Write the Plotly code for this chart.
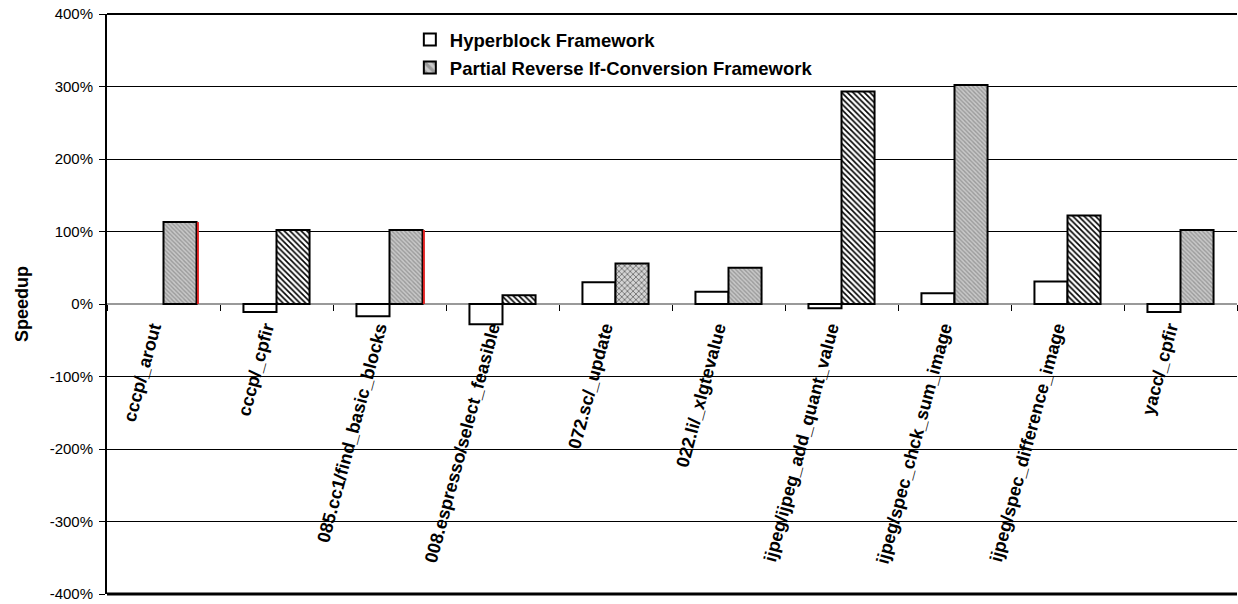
import plotly.graph_objects as go

# Benchmark functions (x-axis categories)
categories = [
    "cccp/_arout",
    "cccp/_cpfir",
    "085.cc1/find_basic_blocks",
    "008.espresso/select_feasible",
    "072.sc/_update",
    "022.li/_xlgtevalue",
    "ijpeg/ijpeg_add_quant_value",
    "ijpeg/spec_chck_sum_image",
    "ijpeg/spec_difference_image",
    "yacc/_cpfir",
]

# Speedup in percent (None: no bar drawn)
hyperblock = [None, -11, -17, -28, 30, 17, -6, 15, 31, -11]
partial_rifc = [113, 102, 102, 12, 56, 50, 293, 302, 122, 102]

# Fill style of each Partial Reverse If-Conversion bar
partial_fill = ["grey", "hatch", "grey", "hatch", "check",
                "grey", "hatch", "grey", "hatch", "grey"]
red_edge = [True, False, True, False, False, False, False, False, False, False]

y_ticks = [-400, -300, -200, -100, 0, 100, 200, 300, 400]
y_tick_text = [f"{v}%" for v in y_ticks]

FONT = "Liberation Sans, Arial, sans-serif"
BARGAP = 0.415

style = {
    "grey": ("\\", "#c8c8c8", "#9a9a9a", 3, 0.45),
    "hatch": ("\\", "#ffffff", "#000000", 4, 0.4),
    "check": ("x", "#d4d4d4", "#707070", 4, 0.4),
}
p_shape = [style[f][0] for f in partial_fill]
p_bg = [style[f][1] for f in partial_fill]
p_fg = [style[f][2] for f in partial_fill]
p_size = [style[f][3] for f in partial_fill]
p_sol = [style[f][4] for f in partial_fill]

fig = go.Figure()
fig.add_trace(go.Bar(
    x=categories, y=hyperblock, name="Hyperblock Framework",
    marker=dict(color="white", line=dict(color="black", width=2)),
    legendgroup="a",
))
fig.add_trace(go.Bar(
    x=categories, y=partial_rifc, name="Partial Reverse If-Conversion Framework",
    marker=dict(
        color="#c8c8c8",
        line=dict(color="black", width=2),
        pattern=dict(shape=p_shape, bgcolor=p_bg, fgcolor=p_fg,
                     size=p_size, solidity=p_sol, fillmode="replace"),
    ),
    legendgroup="b",
))

# Red right edge drawn on some of the Partial bars
bar_w = (1 - BARGAP) / 2
shapes = []
for i, (flag, v) in enumerate(zip(red_edge, partial_rifc)):
    if flag:
        shapes.append(dict(type="line", xref="x", yref="y",
                           x0=i + bar_w + 0.012, x1=i + bar_w + 0.012, y0=0, y1=v,
                           line=dict(color="#e02020", width=2)))

# Top and bottom frame lines
shapes.append(dict(type="line", xref="paper", yref="paper", x0=0, x1=1, y0=1, y1=1,
                   line=dict(color="black", width=2)))
shapes.append(dict(type="line", xref="paper", yref="paper", x0=0, x1=1, y0=0, y1=0,
                   line=dict(color="black", width=3)))

fig.update_layout(
    width=1238, height=604,
    margin=dict(l=107, r=1, t=14, b=10),
    paper_bgcolor="white", plot_bgcolor="white",
    barmode="group", bargap=BARGAP, bargroupgap=0,
    font=dict(family=FONT, color="black"),
    shapes=shapes,
    showlegend=True,
    legend=dict(
        x=0.268, y=0.988, xanchor="left", yanchor="top",
        bgcolor="rgba(0,0,0,0)", borderwidth=0,
        font=dict(family=FONT, size=18.5, color="black", weight="bold"),
        tracegroupgap=1, itemwidth=30,
    ),
    xaxis=dict(
        type="category", anchor="free", position=0.5,
        showline=False, showgrid=False, zeroline=False,
        ticks="outside", tickson="boundaries", ticklen=6, tickwidth=1, tickcolor="black",
        tickangle=-75, ticklabelshift=-11, ticklabelstandoff=9,
        tickfont=dict(family=FONT, size=18, color="black", weight="bold"),
        range=[-0.5, len(categories) - 0.5],
    ),
    yaxis=dict(
        range=[-400, 400], tickvals=y_ticks, ticktext=y_tick_text,
        showgrid=True, gridcolor="#000000", gridwidth=1,
        zeroline=True, zerolinecolor="#999999", zerolinewidth=2,
        showline=True, linecolor="black", linewidth=2,
        ticks="outside", ticklen=6, tickcolor="black", ticklabelstandoff=3,
        tickfont=dict(family=FONT, size=15, color="black"),
        title=dict(text="Speedup", standoff=16,
                   font=dict(family=FONT, size=18, color="black", weight="bold")),
    ),
)

fig.write_html("out.html")
